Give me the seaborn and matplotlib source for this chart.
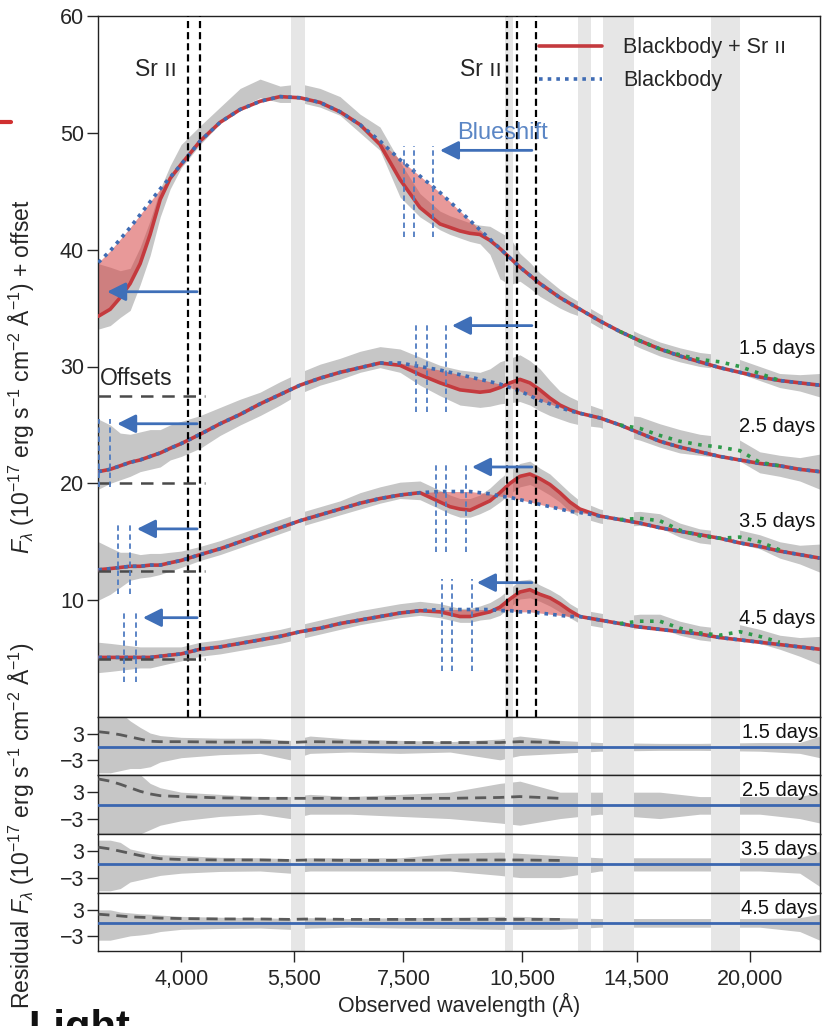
import matplotlib
matplotlib.use('Agg')
import matplotlib.pyplot as plt
import seaborn as sns
from matplotlib.lines import Line2D
from matplotlib.ticker import NullLocator

# ---------------- data ----------------
wl = ([3165, 3273, 3367, 3463, 3562, 3664, 3770, 3878, 4000, 4221, 4466, 4726, 5000, 5291,
       5598, 5924, 6268, 6633, 7018, 7427, 7858, 8315]
      + [8554, 8799, 9051, 9310, 9576, 9851, 10133, 10424, 10722, 11030, 11346, 11671, 12005, 12349]
      + [13067, 13826, 14630, 15480, 16381, 17333, 18341, 19407, 20535, 21729, 22992, 24329])
epochs = ['1.5 days', '2.5 days', '3.5 days', '4.5 days']

bb15 = ([38.9, 39.9, 40.9, 41.9, 43.0, 44.1, 45.2, 46.2, 47.3, 49.3, 50.9, 52.0, 52.7, 53.1,
         53.0, 52.6, 51.8, 50.7, 49.3, 47.7, 46.3, 44.9]
        + [44.1, 43.3, 42.5, 41.7, 40.9, 40.1, 39.3, 38.5, 37.8, 37.1, 36.5, 35.9, 35.4, 34.9]
        + [33.9, 33.0, 32.2, 31.5, 30.9, 30.4, 29.9, 29.5, 29.1, 28.8, 28.6, 28.4])
sr15 = ([34.3, 34.9, 35.9, 37.1, 38.8, 41.3, 44.3, 46.1, 47.3, 49.3, 50.9, 52.0, 52.7, 53.1,
         53.0, 52.6, 51.8, 50.7, 49.0, 46.0, 43.6, 42.2]
        + [41.9, 41.6, 41.4, 41.3, 40.8, 40.1, 39.3, 38.5, 37.8, 37.1, 36.5, 35.9, 35.4, 34.9]
        + [33.9, 33.0, 32.2, 31.5, 30.9, 30.4, 29.9, 29.5, 29.1, 28.8, 28.6, 28.4])
bb25 = ([21.0, 21.2, 21.5, 21.8, 22.0, 22.3, 22.6, 23.0, 23.4, 24.2, 25.1, 25.9, 26.8, 27.6,
         28.4, 29.0, 29.5, 29.9, 30.3, 30.3, 30.0, 29.7]
        + [29.5, 29.3, 29.1, 28.9, 28.7, 28.5, 28.2, 27.9, 27.5, 27.1, 26.8, 26.5, 26.2, 26.0]
        + [25.6, 25.0, 24.3, 23.6, 23.1, 22.7, 22.3, 22.0, 21.7, 21.5, 21.2, 21.0])
sr25 = ([21.0, 21.2, 21.5, 21.8, 22.0, 22.3, 22.6, 23.0, 23.4, 24.2, 25.1, 25.9, 26.8, 27.6,
         28.4, 29.0, 29.5, 29.9, 30.3, 30.1, 29.3, 28.6]
        + [28.3, 28.0, 27.9, 27.8, 27.9, 28.2, 28.6, 28.9, 28.6, 28.0, 27.3, 26.7, 26.3, 26.0]
        + [25.6, 25.0, 24.3, 23.6, 23.1, 22.7, 22.3, 22.0, 21.7, 21.5, 21.2, 21.0])
bb35 = ([12.6, 12.7, 12.8, 12.9, 12.9, 13.0, 13.0, 13.2, 13.4, 13.9, 14.4, 15.0, 15.6, 16.2,
         16.8, 17.3, 17.8, 18.3, 18.7, 19.0, 19.2, 19.3]
        + [19.3, 19.3, 19.3, 19.2, 19.1, 18.9, 18.8, 18.6, 18.4, 18.2, 18.0, 17.8, 17.6, 17.5]
        + [17.2, 16.9, 16.6, 16.2, 15.9, 15.6, 15.3, 14.9, 14.6, 14.2, 13.9, 13.6])
sr35 = ([12.6, 12.7, 12.8, 12.9, 12.9, 13.0, 13.0, 13.2, 13.4, 13.9, 14.4, 15.0, 15.6, 16.2,
         16.8, 17.3, 17.8, 18.3, 18.7, 19.0, 19.2, 18.4]
        + [18.0, 17.8, 17.7, 18.1, 18.5, 19.2, 20.0, 20.6, 20.8, 20.4, 19.9, 19.2, 18.4, 17.8]
        + [17.2, 16.9, 16.6, 16.2, 15.9, 15.6, 15.3, 14.9, 14.6, 14.2, 13.9, 13.6])
bb45 = ([5.1, 5.1, 5.1, 5.1, 5.1, 5.1, 5.2, 5.3, 5.4, 5.8, 6.0, 6.3, 6.6, 6.9, 7.3, 7.6, 8.0,
         8.3, 8.6, 8.9, 9.1, 9.2]
        + [9.2, 9.2, 9.2, 9.2, 9.2, 9.1, 9.1, 9.0, 9.0, 8.9, 8.8, 8.7, 8.6, 8.6]
        + [8.3, 8.0, 7.7, 7.5, 7.3, 7.1, 6.8, 6.6, 6.4, 6.2, 6.0, 5.8])
sr45 = ([5.1, 5.1, 5.1, 5.1, 5.1, 5.1, 5.2, 5.3, 5.4, 5.8, 6.0, 6.3, 6.6, 6.9, 7.3, 7.6, 8.0,
         8.3, 8.6, 8.9, 9.1, 9.0]
        + [8.8, 8.6, 8.6, 8.8, 9.0, 9.4, 10.1, 10.7, 10.9, 10.5, 10.2, 9.7, 9.1, 8.6]
        + [8.3, 8.0, 7.7, 7.5, 7.3, 7.1, 6.8, 6.6, 6.4, 6.2, 6.0, 5.8])

# observed spectra: centre and half-width of the noisy trace
spec15 = ([36.0, 36.0, 36.2, 36.6, 38.6, 41.0, 44.0, 46.2, 48.0, 49.8, 51.5, 53.0, 53.8, 53.3,
           53.4, 53.0, 52.3, 50.8, 49.5, 46.0, 43.8, 42.5]
          + [42.1, 41.8, 41.5, 41.3, 40.8, 39.5, 39.0, 38.5, 37.8, 37.0, 36.4, 35.8, 35.3, 34.9]
          + [33.9, 33.0, 32.2, 31.5, 31.0, 30.6, 30.4, 30.0, 29.4, 28.8, 28.6, 28.4])
hw15 = ([2.8, 2.5, 2.0, 1.8, 1.6, 1.5, 1.2, 1.0, 1.0, 0.8, 0.7, 0.8, 0.8, 0.7, 0.8, 0.8, 0.8,
         0.8, 1.0, 1.5, 1.0, 0.8]
        + [0.8, 0.8, 0.8, 0.8, 1.2, 2.0, 2.0, 1.2, 1.1, 1.0, 0.9, 0.8, 0.7, 0.6]
        + [0.6, 0.6, 0.6, 0.6, 0.6, 0.6, 0.6, 0.6, 0.6, 0.6, 0.7, 1.0])
spec25 = ([22.5, 22.5, 22.3, 22.4, 22.7, 22.9, 23.0, 23.5, 23.8, 24.4, 25.3, 26.1, 26.8, 27.7,
           28.6, 29.3, 29.8, 30.4, 30.8, 30.5, 29.6, 28.8]
          + [28.5, 28.2, 28.1, 28.0, 28.2, 28.6, 28.8, 29.0, 28.6, 28.0, 27.3, 26.7, 26.3, 26.0]
          + [25.6, 25.0, 24.7, 24.1, 23.6, 23.3, 23.1, 22.8, 21.8, 21.5, 21.2, 21.0])
hw25 = ([3.0, 2.5, 2.0, 1.8, 1.7, 1.7, 1.6, 1.5, 1.5, 1.4, 1.2, 1.1, 1.0, 1.0, 0.9, 0.9, 0.9,
         0.9, 0.9, 1.0, 1.2, 1.3]
        + [1.4, 1.5, 1.5, 1.5, 1.6, 1.8, 1.9, 2.0, 1.9, 1.8, 1.5, 1.2, 1.1, 1.0]
        + [0.8, 0.9, 1.0, 1.0, 1.0, 0.9, 0.9, 0.9, 0.9, 0.9, 1.0, 1.5])
spec35 = ([12.5, 12.5, 12.6, 12.9, 12.9, 13.0, 13.1, 13.3, 13.5, 14.0, 14.5, 15.1, 15.7, 16.3,
           16.9, 17.4, 17.9, 18.5, 19.0, 19.4, 19.4, 18.6]
          + [18.2, 17.9, 17.9, 18.2, 18.7, 19.4, 20.1, 20.7, 20.9, 20.4, 19.9, 19.2, 18.4, 17.8]
          + [17.2, 16.9, 17.0, 16.8, 16.0, 15.5, 15.3, 15.4, 15.0, 14.3, 13.9, 13.6])
hw35 = ([2.5, 2.0, 1.5, 1.2, 1.0, 1.0, 0.9, 0.8, 0.7, 0.6, 0.6, 0.6, 0.6, 0.6, 0.6, 0.6, 0.6,
         0.7, 0.7, 0.7, 0.8, 0.8]
        + [0.8, 0.8, 0.8, 0.8, 0.9, 1.0, 1.0, 1.0, 1.0, 0.9, 0.9, 0.8, 0.8, 0.7]
        + [0.6, 0.6, 0.6, 0.6, 0.6, 0.6, 0.6, 0.6, 0.6, 0.7, 0.8, 1.2])
spec45 = ([5.1, 5.1, 5.1, 5.1, 5.1, 5.1, 5.2, 5.3, 5.4, 5.8, 6.0, 6.3, 6.6, 6.9, 7.3, 7.7, 8.1,
           8.5, 8.8, 9.1, 9.3, 9.1]
          + [8.9, 8.7, 8.7, 8.9, 9.1, 9.5, 10.2, 10.9, 11.0, 10.6, 10.2, 9.7, 9.1, 8.6]
          + [8.3, 8.0, 8.2, 8.2, 7.6, 7.2, 7.0, 7.3, 6.9, 6.4, 6.0, 5.7])
hw45 = ([1.3, 1.2, 1.1, 1.0, 0.9, 0.9, 0.8, 0.7, 0.6, 0.6, 0.6, 0.6, 0.6, 0.6, 0.6, 0.6, 0.6,
         0.6, 0.6, 0.6, 0.6, 0.6]
        + [0.6, 0.6, 0.6, 0.6, 0.7, 0.8, 0.8, 0.8, 0.8, 0.7, 0.7, 0.7, 0.6, 0.6]
        + [0.6, 0.6, 0.6, 0.6, 0.6, 0.6, 0.6, 0.6, 0.6, 0.6, 0.8, 1.2])

# additional NIR component (green dotted)
green_wl = [13826, 14630, 15480, 16381, 17333, 18341, 19407, 20535, 21729]
green15 = [33.0, 32.2, 31.5, 31.0, 30.6, 30.4, 30.0, 29.4, 28.8]
green25 = [25.0, 24.7, 24.1, 23.6, 23.3, 23.1, 22.8, 21.8, 21.5]
green35 = [16.9, 17.0, 16.8, 16.0, 15.5, 15.3, 15.4, 15.0, 14.3]
green45 = [8.0, 8.2, 8.2, 7.6, 7.2, 7.0, 7.3, 6.9, 6.4]

# residuals
res_wl = [3165, 3273, 3367, 3463, 3562, 3664, 3770, 4000, 4466, 5000, 5443, 5759, 6448,
          7427, 8554, 9851, 10424, 11671, 13067, 15480, 17333, 20535, 22992, 24329]
res_hi = [[8, 8, 8, 6, 4.5, 3.2, 2.6, 2.2, 2.0, 2.0, 1.5, 2.5, 1.8, 1.5, 1.2, 1.8, 2.5, 1.5, 1.0, 0.8, 0.8, 1.0, 1.0, 2.5],
          [8, 8, 8, 8, 7, 5, 4, 3, 2.5, 2, 2, 2.5, 2, 2.5, 3, 5, 5.5, 3, 3, 3, 2, 2, 2, 3],
          [5.5, 5.5, 5, 3.5, 3, 2.5, 2.2, 2, 1.6, 1.5, 1.3, 1.5, 1.5, 1.5, 2.5, 2.8, 2.5, 2, 1.5, 1.5, 1.5, 1.5, 1.5, 3],
          [3, 3, 2.5, 2.3, 2.1, 2, 1.8, 1.5, 1.3, 1.2, 1, 1.2, 1, 1.2, 1.3, 1.5, 1.5, 1.2, 1, 1, 1, 1, 1.2, 2]]
res_lo = [[-6, -6, -5.5, -5, -5, -4.6, -3.5, -2.5, -1.8, -1.5, -3.0, -1.5, -1.2, -1.5, -1.2, -3.0, -2.0, -1.5, -1.0, -0.8, -0.8, -1.0, -1.5, -2.5],
          [-7, -7, -7, -7, -6.5, -5.5, -4.5, -3.5, -2.5, -2, -3, -2, -2, -2.5, -3, -4, -4.5, -3, -2, -3, -2, -2, -3, -4],
          [-6, -6, -5.5, -4, -3.5, -3, -2.5, -2, -1.6, -1.5, -2, -1.5, -1.5, -1.5, -1.5, -2.5, -3, -3, -1.5, -1.5, -1.5, -1.5, -2, -5],
          [-4, -4, -3.5, -3, -2.8, -2.5, -2, -1.5, -1.3, -1.2, -1.5, -1.2, -1, -1.2, -1.3, -1.5, -1.5, -1.5, -1, -1, -1, -1, -2, -4]]
res_err = [[3.5, 3.2, 2.8, 2.3, 1.8, 1.3, 1.2, 1.2, 1.1, 1.1, 1.0, 1.2, 1.1, 1.0, 1.0, 1.0, 1.2, 1.0],
           [6.0, 5.5, 4.8, 4.0, 3.2, 2.6, 2.2, 2.0, 1.7, 1.6, 1.6, 1.6, 1.6, 1.6, 1.6, 1.8, 2.0, 1.6],
           [3.9, 3.5, 3.0, 2.5, 2.0, 1.6, 1.3, 1.1, 1.0, 1.0, 0.9, 1.0, 0.9, 0.9, 1.0, 1.0, 1.0, 0.9],
           [2.0, 1.8, 1.6, 1.4, 1.3, 1.2, 1.1, 1.0, 0.9, 0.9, 0.8, 0.9, 0.8, 0.8, 0.8, 0.8, 0.8, 0.8]]

telluric_lo = [5460, 9990, 12300, 13200, 17900]
telluric_hi = [5680, 10220, 12750, 14400, 19400]
sr_lines = [4077, 4215, 10036, 10327, 10914]
offsets = [27.5, 20.0, 12.5, 5.0]

# blueshift markers (velocity-shifted line positions)
blue_marks_r = [[7510, 7726, 8152], [7770, 8015, 8457], [8222, 8457, 8950], [8362, 8602, 9103]]
blue_marks_r_span = [(41.1, 48.9), (26.1, 33.8), (14.1, 21.8), (3.9, 11.8)]
blue_marks_l = [[], [3170, 3273], [3348, 3463], [3405, 3522]]
blue_marks_l_span = [None, (19.7, 25.5), (10.5, 16.5), (3.0, 9.0)]
arrows_r = [(10783, 8315, 48.5), (10783, 8602, 33.5), (10783, 9103, 21.4), (10783, 9231, 11.5)]
arrows_l = [(4185, 3245, 36.4), (4185, 3338, 25.1), (4185, 3530, 16.1), (4185, 3590, 8.5)]
day_label_y = [31.5, 24.9, 16.7, 8.4]

xticks = [4000, 5500, 7500, 10500, 14500, 20000]
xticklabels = ['4,000', '5,500', '7,500', '10,500', '14,500', '20,000']

# ---------------- styling ----------------
sns.set_theme(style='ticks')
plt.rcParams['font.family'] = ['Liberation Sans', 'DejaVu Sans']
plt.rcParams['mathtext.fontset'] = 'custom'
plt.rcParams['mathtext.rm'] = 'Liberation Sans'
plt.rcParams['mathtext.it'] = 'Liberation Sans:italic'
plt.rcParams['axes.edgecolor'] = '#222222'
plt.rcParams['axes.linewidth'] = 1.0

RED = '#c43a3e'
BLUE = '#3f6cb4'
ARROW = '#3f6fb8'
GREEN = '#2e9a4a'
SPEC = '#c6c6c6'
FILL = '#d64545'
BAND = '#e6e6e6'
TICK_FS = 15.5

fig = plt.figure(figsize=(8.31, 10.26), dpi=100)
L = 98 / 831
W = (820 - 98) / 831


def fy(p):
    return 1 - p / 1026


ax = fig.add_axes([L, fy(717), W, (717 - 16) / 1026])
res_bounds = [(717, 775), (775, 834), (834, 893), (893, 951)]
raxes = [fig.add_axes([L, fy(b), W, (b - t) / 1026], sharex=ax) for t, b in res_bounds]

ax.set_xscale('log')
ax.set_xlim(3162, 24350)
ax.set_ylim(0, 60)

bbs = [bb15, bb25, bb35, bb45]
srs = [sr15, sr25, sr35, sr45]
specs = [spec15, spec25, spec35, spec45]
hws = [hw15, hw25, hw35, hw45]
greens = [green15, green25, green35, green45]

for i in range(4):
    lo = [c - h for c, h in zip(specs[i], hws[i])]
    hi = [c + h for c, h in zip(specs[i], hws[i])]
    ax.fill_between(wl, lo, hi, color=SPEC, lw=0, zorder=1)
    ax.fill_between(wl, srs[i], bbs[i], color=FILL, alpha=0.55, lw=0, zorder=2)
    sns.lineplot(x=wl, y=srs[i], ax=ax, color=RED, lw=2.6, zorder=3, legend=False)
    sns.lineplot(x=wl, y=bbs[i], ax=ax, color=BLUE, lw=2.6, linestyle=(0, (1, 1.4)),
                 zorder=4, legend=False)
    sns.lineplot(x=green_wl, y=greens[i], ax=ax, color=GREEN, lw=2.6,
                 linestyle=(0, (1, 1.8)), zorder=4, legend=False)
    ax.text(24050, day_label_y[i], epochs[i], ha='right', va='center', fontsize=14.5,
            color='#111111', zorder=6)

for lo_, hi_ in zip(telluric_lo, telluric_hi):
    for a in [ax] + raxes:
        a.axvspan(lo_, hi_, color=BAND, lw=0, zorder=1.5)

for s in sr_lines:
    ax.axvline(s, color='black', lw=1.6, linestyle=(0, (3.2, 1.8)), zorder=5)

for off in offsets:
    ax.plot([3162, 4281], [off, off], color='#4a4a4a', lw=1.8, linestyle=(0, (5, 3.5)), zorder=5)

for i in range(4):
    y0, y1 = blue_marks_r_span[i]
    for m in blue_marks_r[i]:
        ax.plot([m, m], [y0, y1], color='#4f7cc2', lw=1.3, linestyle=(0, (3, 2)), zorder=5)
    if blue_marks_l_span[i] is not None:
        y0, y1 = blue_marks_l_span[i]
        for m in blue_marks_l[i]:
            ax.plot([m, m], [y0, y1], color='#4f7cc2', lw=1.3, linestyle=(0, (3, 2)), zorder=5)
    for (x0, x1, yy) in (arrows_r[i], arrows_l[i]):
        ax.annotate('', xy=(x1, yy), xytext=(x0, yy), zorder=6,
                    arrowprops=dict(arrowstyle='-|>,head_length=0.7,head_width=0.35',
                                    color=ARROW, lw=2.0, shrinkA=0, shrinkB=0,
                                    mutation_scale=16))

ax.text(3955, 54.9, 'Sr ıı', ha='right', va='baseline', fontsize=16.5, zorder=6)
ax.text(9906, 54.9, 'Sr ıı', ha='right', va='baseline', fontsize=16.5, zorder=6)
ax.text(8724, 50.0, 'Blueshift', ha='left', va='center', fontsize=17, color='#5b86c5', zorder=6)
ax.text(3180, 29.0, 'Offsets', ha='left', va='center', fontsize=16.5, zorder=6)

handles = [Line2D([], [], color=RED, lw=2.6),
           Line2D([], [], color=BLUE, lw=2.6, linestyle=(0, (1, 1.4)))]
ax.legend(handles, ['Blackbody + Sr ıı', 'Blackbody'], loc='upper right',
          bbox_to_anchor=(0.965, 0.982), frameon=False, fontsize=15.5,
          handlelength=2.9, labelspacing=0.55, handletextpad=1.0, borderaxespad=0)

ax.set_yticks([10, 20, 30, 40, 50, 60])
ax.tick_params(axis='y', labelsize=TICK_FS, direction='out', length=8, width=1, pad=2)
ax.tick_params(axis='x', which='both', bottom=False, labelbottom=False)

for i, a in enumerate(raxes):
    a.fill_between(res_wl, res_lo[i], res_hi[i], color=SPEC, lw=0, zorder=1)
    a.axhline(0, color='#3a66b0', lw=2.0, zorder=3)
    sns.lineplot(x=res_wl[:18], y=res_err[i], ax=a, color='#5a5a5a', lw=2.0,
                 linestyle=(0, (4, 2.5)), zorder=4, legend=False)
    a.set_ylim(-6.5, 6.9)
    a.set_yticks([3, -3])
    a.set_yticklabels(['3', '\u22123'])
    a.tick_params(axis='y', labelsize=TICK_FS, direction='out', length=8, width=1, pad=2)
    a.text(0.997, 0.74, epochs[i], transform=a.transAxes, ha='right', va='center',
           fontsize=14.5, color='#111111', zorder=6)
    if i < 3:
        a.tick_params(axis='x', which='both', bottom=False, labelbottom=False)

rb = raxes[-1]
rb.set_xticks(xticks)
rb.set_xticklabels(xticklabels)
rb.xaxis.set_minor_locator(NullLocator())
rb.tick_params(axis='x', labelsize=TICK_FS, direction='out', length=8, width=1, pad=5)
rb.set_xlabel('Observed wavelength (Å)', fontsize=15.5, labelpad=2)
rb.set_xlim(3162, 24350)

fig.text(22 / 831, fy(377),
         r'$F_\lambda$ (10$^{-17}$ erg s$^{-1}$ cm$^{-2}$ Å$^{-1}$) + offset',
         rotation=90, ha='center', va='center', fontsize=16.5)
fig.text(22 / 831, fy(826),
         r'Residual $F_\lambda$ (10$^{-17}$ erg s$^{-1}$ cm$^{-2}$ Å$^{-1}$)',
         rotation=90, ha='center', va='center', fontsize=16.5)

# cropped remnants at the figure edges
fig.add_artist(Line2D([0, 11 / 831], [fy(122), fy(122)], color='#d03030', lw=3,
                      transform=fig.transFigure))
fig.text(28 / 831, fy(1009), 'Light', ha='left', va='top', fontsize=30,
         fontweight='bold', color='#111111')

fig.savefig('out.png', dpi=100)
